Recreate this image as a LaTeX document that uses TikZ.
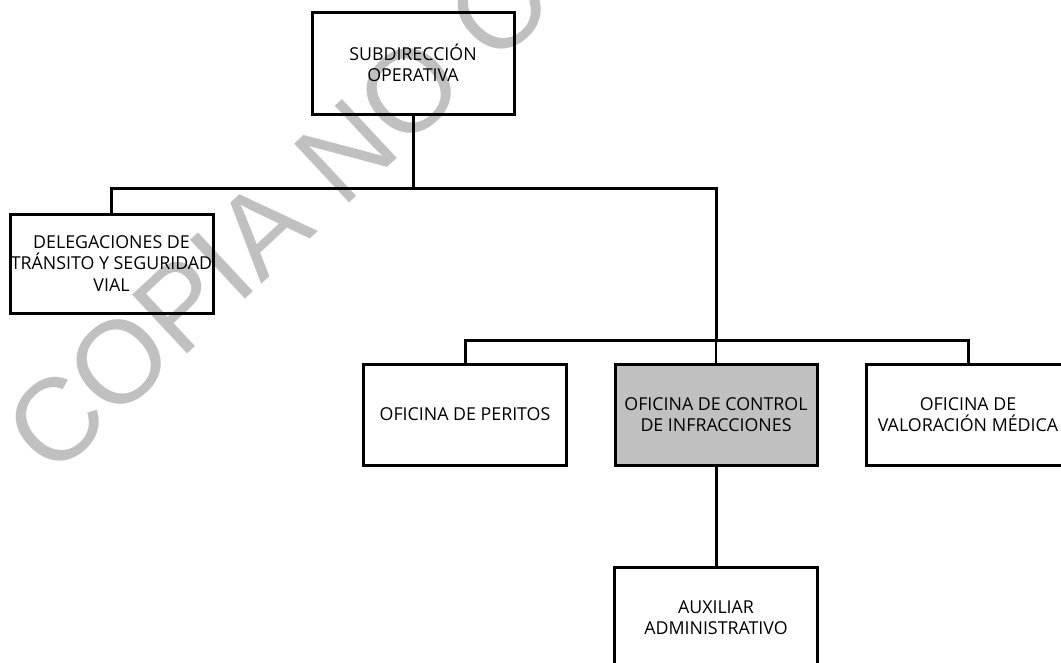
\documentclass[tikz,border=0pt]{standalone}
\usepackage{fontspec}
\setmainfont{Open Sans}
\newfontfamily\wmfont{Liberation Sans}
\definecolor{wmgray}{HTML}{C0C0C0}
\definecolor{boxgray}{HTML}{C0C0C0}
\begin{document}
\begin{tikzpicture}[x=1pt,y=-1pt,
  orgbox/.style={draw=black, line width=3pt, minimum width=203pt, minimum height=101pt,
    inner sep=0pt, align=center, font=\fontsize{17.8}{21.5}\selectfont},
  link/.style={draw=black, line width=3pt},
  thinlink/.style={draw=black, line width=2.2pt}]
\useasboundingbox (0,0) rectangle (1061,662);
\clip (0,0) rectangle (1061,662);
% watermark
\node[rotate=43, anchor=base west, inner sep=0pt, text=wmgray,
  font=\wmfont\fontsize{117}{120}\selectfont] (wm) at (52,480) {COPIA NO C};
% boxes
\node[orgbox, minimum width=202pt, minimum height=102pt] (sub) at (413,63) {SUBDIRECCIÓN\\OPERATIVA};
\node[orgbox, minimum height=99pt] (del) at (111.5,263.5) {DELEGACIONES DE\\TRÁNSITO Y SEGURIDAD\\VIAL};
\node[orgbox] (per) at (465,414.5) {OFICINA DE PERITOS};
\node[orgbox, fill=boxgray, minimum width=202pt] (inf) at (716,414.5) {OFICINA DE CONTROL\\DE INFRACCIONES};
\node[orgbox] (med) at (968,414.5) {OFICINA DE\\VALORACIÓN MÉDICA};
\node[orgbox] (aux) at (716,617.5) {AUXILIAR\\ADMINISTRATIVO};
% connectors
\coordinate (b1) at (413,188);
\coordinate (b2) at (716,340);
\draw[link] (sub.south) -- (b1);
\draw[link] (b1) -| (del.north);
\draw[link] (b1) -| (b2);
\draw[thinlink] (b2) -- (inf.north);
\draw[link] (b2) -| (per.north);
\draw[link] (b2) -| (med.north);
\draw[link] (inf.south) -- (aux.north);
\end{tikzpicture}
\end{document}
